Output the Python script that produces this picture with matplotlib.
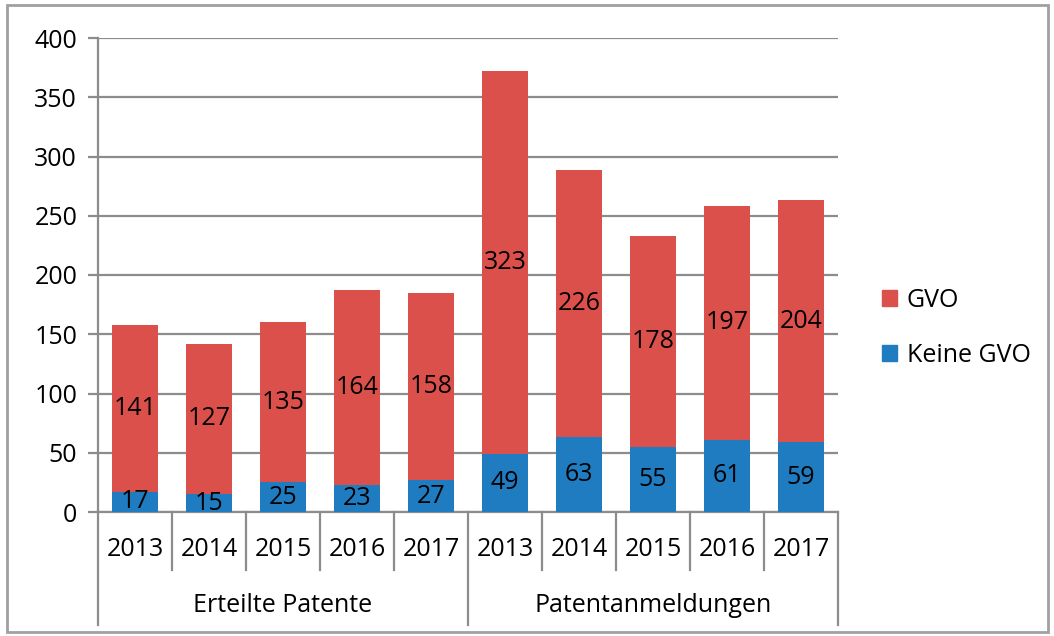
import matplotlib.pyplot as plt
from matplotlib.patches import Rectangle, Patch
import matplotlib.transforms as mtransforms

plt.rcParams['font.family'] = ['Open Sans', 'DejaVu Sans']

# Daten
jahre = ["2013", "2014", "2015", "2016", "2017", "2013", "2014", "2015", "2016", "2017"]
gruppen = ["Erteilte Patente", "Patentanmeldungen"]
keine_gvo = [17, 15, 25, 23, 27, 49, 63, 55, 61, 59]
gvo = [141, 127, 135, 164, 158, 323, 226, 178, 197, 204]

rot = "#dc504c"
blau = "#1f7cc1"
grau = "#8c8c8c"
fs = 18

fig = plt.figure(figsize=(10.54, 6.36), dpi=100)
ax = fig.add_axes([98 / 1054, 124 / 636, 740 / 1054, 474 / 636])

x = list(range(len(jahre)))
b1 = ax.bar(x, keine_gvo, width=0.63, color=blau, zorder=3)
b2 = ax.bar(x, gvo, width=0.63, bottom=keine_gvo, color=rot, zorder=3)
ax.bar_label(b1, labels=[str(v) for v in keine_gvo], label_type="center", fontsize=fs, zorder=4)
ax.bar_label(b2, labels=[str(v) for v in gvo], label_type="center", fontsize=fs, zorder=4)

ax.set_xlim(-0.5, len(jahre) - 0.5)
ax.set_ylim(0, 400)
ax.set_yticks(range(0, 401, 50))
ax.yaxis.grid(True, color=grau, linewidth=1.6, zorder=0)
ax.tick_params(axis="y", length=7, width=1.6, color=grau, labelsize=fs, pad=8)
ax.set_xticks([])
for s in ["top", "right"]:
    ax.spines[s].set_visible(False)
ax.spines["left"].set_color(grau)
ax.spines["left"].set_linewidth(1.6)
ax.spines["bottom"].set_color(grau)
ax.spines["bottom"].set_linewidth(1.6)

# mehrstufige x-Achse
trans = mtransforms.blended_transform_factory(ax.transData, ax.transAxes)
for i, j in enumerate(jahre):
    ax.text(i, -0.08, j, transform=trans, ha="center", va="center", fontsize=fs)
for i in range(1, len(jahre)):
    if i == 5:
        continue
    ax.plot([i - 0.5, i - 0.5], [0, -0.122], transform=trans, color=grau, lw=1.6, clip_on=False)
for i in [-0.5, 4.5, 9.5]:
    ax.plot([i, i], [0, -0.238], transform=trans, color=grau, lw=1.6, clip_on=False)
for k, g in enumerate(gruppen):
    ax.text(2 + 5 * k, -0.198, g, transform=trans, ha="center", va="center", fontsize=fs)

handles = [Patch(color=rot, label="GVO"), Patch(color=blau, label="Keine GVO")]
fig.legend(handles=handles, loc="center left", bbox_to_anchor=(0.815, 0.485), frameon=False,
           fontsize=fs, handlelength=0.6, handleheight=0.6, handletextpad=0.4, labelspacing=1.2)

fig.patches.append(Rectangle((7 / 1054, 4 / 636), 1041 / 1054, 627 / 636, transform=fig.transFigure,
                             fill=False, edgecolor="#a0a0a0", linewidth=2))

fig.savefig("out.png", dpi=100)
